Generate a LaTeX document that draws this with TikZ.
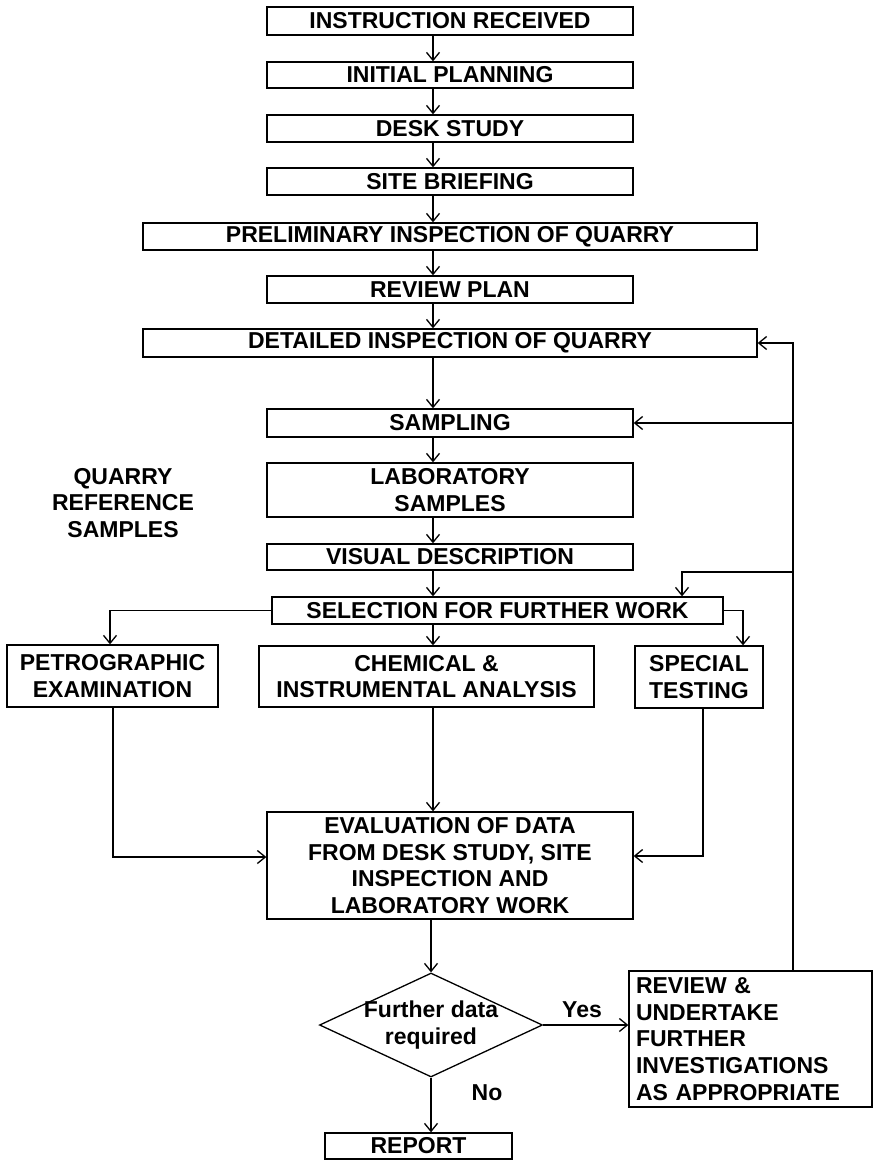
\documentclass[tikz,border=0pt]{standalone}
\usepackage{fontspec}
\setmainfont{Liberation Sans}
\usetikzlibrary{arrows.meta}
\usetikzlibrary{shapes.geometric}

\tikzset{
  box/.style={draw,line width=1.3pt,inner sep=0pt,align=center,minimum width=366pt,font=\fontsize{23}{26.7}\selectfont\bfseries},
  txt/.style={align=center,inner sep=0pt,font=\fontsize{23}{26.7}\selectfont\bfseries},
  link/.style={-{Straight Barb[length=8pt,width=13pt,line width=1.3pt]},line width=1.3pt}
}

\begin{document}
\begin{tikzpicture}[x=1pt,y=-1pt]
\useasboundingbox (0,0) rectangle (882,1161);

% main column
\node [box,minimum height=28pt] (instr) at (450,21) {INSTRUCTION RECEIVED};
\node [box,minimum height=26pt] (plan) at (450,75) {INITIAL PLANNING};
\node [box,minimum height=27pt] (desk) at (450,128.5) {DESK STUDY};
\node [box,minimum height=27pt] (brief) at (450,181.5) {SITE BRIEFING};
\node [box,minimum height=27pt,minimum width=614pt] (prelim) at (450,236.5) {PRELIMINARY INSPECTION OF QUARRY};
\node [box,minimum height=27pt] (review) at (450,289.5) {REVIEW PLAN};
\node [box,minimum height=28pt,minimum width=614pt] (detail) at (450,343) {DETAILED INSPECTION OF QUARRY};
\node [box,minimum height=28pt] (sampling) at (450,423) {SAMPLING};
\node [box,minimum height=54pt] (lab) at (450,490) {LABORATORY\\SAMPLES};
\node [box,minimum height=26pt] (visual) at (450,557) {VISUAL DESCRIPTION};
\node [box,minimum height=27pt,minimum width=451pt] (select) at (497.5,610.5) {SELECTION FOR FURTHER WORK};

% side note
\node [txt] (quarry) at (123,503) {QUARRY\\REFERENCE\\SAMPLES};

% three kinds of work
\node [box,minimum height=62pt,minimum width=211pt] (petro) at (112.5,676) {PETROGRAPHIC\\EXAMINATION};
\node [box,minimum height=61pt,minimum width=335pt] (chem) at (426.5,676.5) {CHEMICAL \&\\INSTRUMENTAL ANALYSIS};
\node [box,minimum height=62pt,minimum width=128pt] (special) at (699,677) {SPECIAL\\TESTING};

% evaluation and decision
\node [box,minimum height=107pt] (eval) at (450,865.5) {EVALUATION OF DATA\\FROM DESK STUDY, SITE\\INSPECTION AND\\LABORATORY WORK};
\node [draw,diamond,line width=1.3pt,inner sep=0pt,minimum width=223pt,minimum height=104pt,
  label={[txt]center:Further data\\required}] (ask) at (431,1025) {};
\node [box,minimum height=136pt,minimum width=243pt,text width=229pt,align=left] (rev) at (750.5,1039) {REVIEW \&\\UNDERTAKE\\FURTHER\\INVESTIGATIONS\\AS APPROPRIATE};
\node [box,minimum height=26pt,minimum width=187pt] (report) at (418.5,1146) {REPORT};
\node [txt] (yes) at (582,1010) {Yes};
\node [txt] (no) at (487,1093) {No};

% arrows down the middle
\coordinate (col) at (433,0);
\draw [link] (instr.south -| col) -- (plan.north -| col);
\draw [link] (plan.south -| col) -- (desk.north -| col);
\draw [link] (desk.south -| col) -- (brief.north -| col);
\draw [link] (brief.south -| col) -- (prelim.north -| col);
\draw [link] (prelim.south -| col) -- (review.north -| col);
\draw [link] (review.south -| col) -- (detail.north -| col);
\draw [link] (detail.south -| col) -- (sampling.north -| col);
\draw [link] (sampling.south -| col) -- (lab.north -| col);
\draw [link] (lab.south -| col) -- (visual.north -| col);
\draw [link] (visual.south -| col) -- (select.north -| col);
\draw [link] (select.south -| col) -- (chem.north -| col);
\draw [link] (chem.south -| col) -- (eval.north -| col);
\draw [link] (eval.south -| ask.north) -- (ask.north);
\draw [link] (ask.south) -- (report.north -| ask.south);
\draw [link] (ask.east) -- (rev.west |- ask.east);

% branches from selection
\coordinate (pin) at (110,0);
\coordinate (sin) at (743,0);
\draw [link] (select.west) -| (petro.north -| pin);
\draw [link] (select.east) -| (special.north -| sin);

% into evaluation
\coordinate (pout) at (113,857);
\coordinate (sout) at (703,856);
\draw [link] (petro.south -| pout) |- (eval.west |- pout);
\draw [link] (special.south -| sout) |- (eval.east |- sout);

% feedback loop
\coordinate (fb) at (793,0);
\coordinate (selin) at (682,572);
\draw [link] (rev.north -| fb) -- (detail.east -| fb) -- (detail.east);
\draw [link] (sampling.east -| fb) -- (sampling.east);
\draw [link] (selin -| fb) -- (selin) -- (selin |- select.north);

\end{tikzpicture}
\end{document}
